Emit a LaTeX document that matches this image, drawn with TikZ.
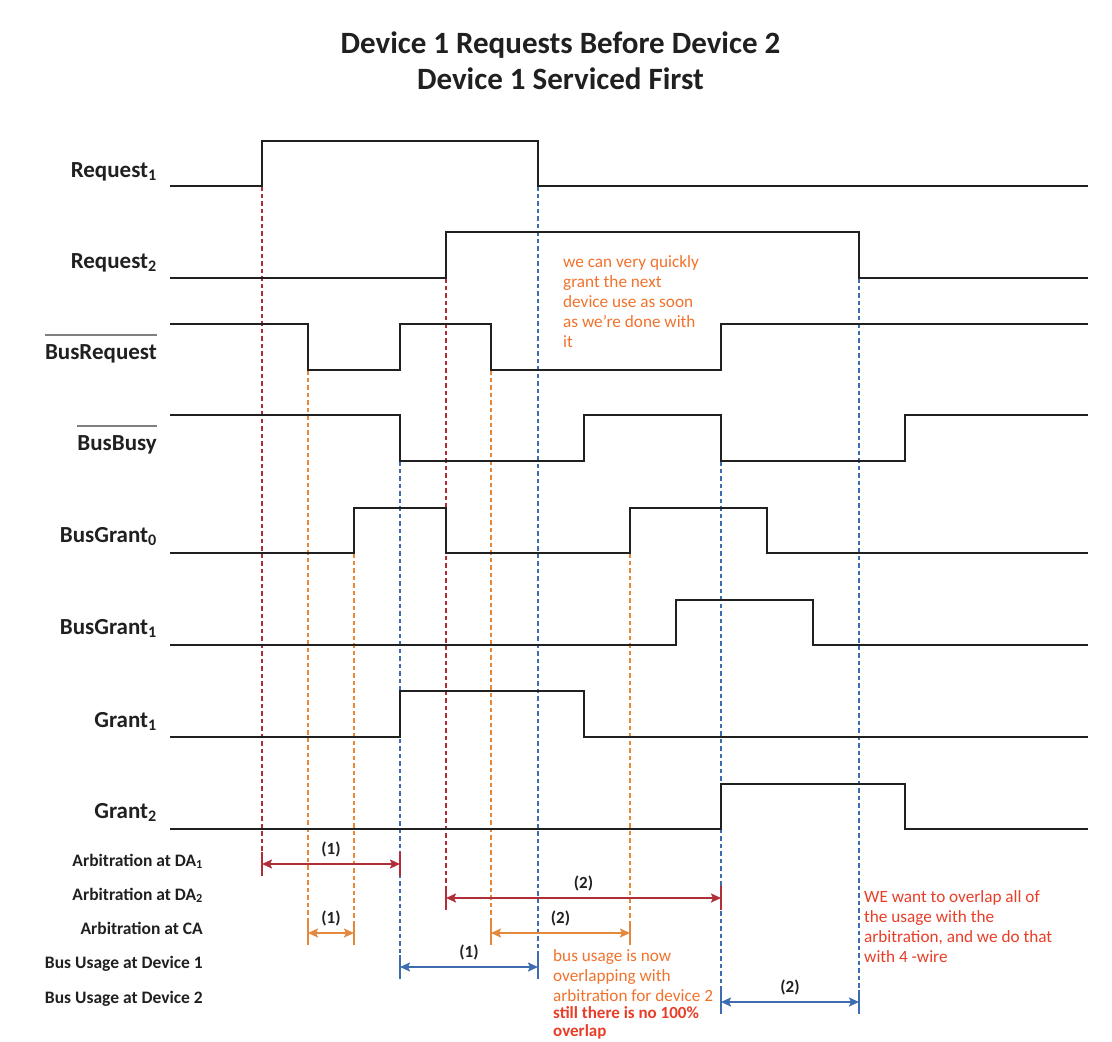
\documentclass[tikz,border=0pt]{standalone}
\usepackage{fontspec}
\setmainfont{Carlito}
\usetikzlibrary{arrows.meta}

\definecolor{arbred}{RGB}{176,46,56}
\definecolor{arborange}{RGB}{228,136,60}
\definecolor{usageblue}{RGB}{62,108,176}
\definecolor{noteorange}{RGB}{240,114,44}
\definecolor{notered}{RGB}{232,62,40}
\definecolor{wire}{RGB}{32,32,32}

\tikzstyle{signal}=[line width=2.6pt,wire]
\tikzstyle{signame}=[anchor=base east,inner sep=0pt,font=\bfseries\fontsize{23}{25}\selectfont,text=wire]
\tikzstyle{rowname}=[anchor=base east,inner sep=0pt,font=\bfseries\fontsize{17.5}{20}\selectfont,text=wire]
\tikzstyle{overbar}=[line width=1.4pt,gray]
\tikzstyle{guide}=[line width=2.5pt,dash pattern=on 4.5pt off 3pt]
\tikzstyle{endtick}=[line width=2.4pt]
\tikzstyle{spanarrow}=[line width=2.4pt,{Stealth[length=10pt,width=9pt,inset=2pt]}-{Stealth[length=10pt,width=9pt,inset=2pt]}]
\tikzstyle{spanlabel}=[above=6pt,inner sep=0pt,font=\bfseries\fontsize{17}{19}\selectfont,text=wire]
\tikzstyle{note}=[anchor=base west,inner sep=0pt,align=left,font=\fontsize{17.2}{20}\selectfont]

\begin{document}
\begin{tikzpicture}[x=1pt,y=-1pt]
\useasboundingbox (0,0) rectangle (1112,1042);

\node[anchor=base,inner sep=0pt,align=center,font=\bfseries\fontsize{31}{36}\selectfont,text=wire] (title) at (560.5,89) {Device 1 Requests Before Device 2\\Device 1 Serviced First};

% span ends
\coordinate (da1s) at (262,864);
\coordinate (da1e) at (400,864);
\coordinate (da2s) at (446,898);
\coordinate (da2e) at (721,898);
\coordinate (ca1s) at (308,933);
\coordinate (ca1e) at (354,933);
\coordinate (ca2s) at (491,933);
\coordinate (ca2e) at (630,933);
\coordinate (bu1s) at (400,967);
\coordinate (bu1e) at (538,967);
\coordinate (bu2s) at (721,1002);
\coordinate (bu2e) at (859,1002);

% dotted guides
\draw[guide,arbred] (262,186) -- ([yshift=12pt]da1s);
\draw[guide,arbred] (446,278) -- ([yshift=12pt]da2s);
\draw[guide,arborange] (308,370) -- ([yshift=12pt]ca1s);
\draw[guide,arborange] (354,553) -- ([yshift=12pt]ca1e);
\draw[guide,arborange] (491,370) -- ([yshift=12pt]ca2s);
\draw[guide,arborange] (630,553) -- ([yshift=12pt]ca2e);
\draw[guide,usageblue] (400,461) -- ([yshift=12pt]bu1s);
\draw[guide,usageblue] (538,186) -- ([yshift=12pt]bu1e);
\draw[guide,usageblue] (721,461) -- ([yshift=12pt]bu2s);
\draw[guide,usageblue] (859,278) -- ([yshift=12pt]bu2e);

% ticks
\draw[endtick,arbred] ([yshift=12pt]da1s) -- ([yshift=-12pt]da1s);
\draw[endtick,arbred] ([yshift=12pt]da1e) -- ([yshift=-12pt]da1e);
\draw[endtick,arbred] ([yshift=12pt]da2s) -- ([yshift=-12pt]da2s);
\draw[endtick,arbred] ([yshift=12pt]da2e) -- ([yshift=-12pt]da2e);
\draw[endtick,arborange] ([yshift=12pt]ca1s) -- ([yshift=-12pt]ca1s);
\draw[endtick,arborange] ([yshift=12pt]ca1e) -- ([yshift=-12pt]ca1e);
\draw[endtick,arborange] ([yshift=12pt]ca2s) -- ([yshift=-12pt]ca2s);
\draw[endtick,arborange] ([yshift=12pt]ca2e) -- ([yshift=-12pt]ca2e);
\draw[endtick,usageblue] ([yshift=12pt]bu1s) -- ([yshift=-12pt]bu1s);
\draw[endtick,usageblue] ([yshift=12pt]bu1e) -- ([yshift=-12pt]bu1e);
\draw[endtick,usageblue] ([yshift=12pt]bu2s) -- ([yshift=-12pt]bu2s);
\draw[endtick,usageblue] ([yshift=12pt]bu2e) -- ([yshift=-12pt]bu2e);

% spans
\draw[spanarrow,arbred] (da1s) -- node[spanlabel] {(1)} (da1e);
\draw[spanarrow,arbred] (da2s) -- node[spanlabel] {(2)} (da2e);
\draw[spanarrow,arborange] (ca1s) -- node[spanlabel] {(1)} (ca1e);
\draw[spanarrow,arborange] (ca2s) -- node[spanlabel] {(2)} (ca2e);
\draw[spanarrow,usageblue] (bu1s) -- node[spanlabel] {(1)} (bu1e);
\draw[spanarrow,usageblue] (bu2s) -- node[spanlabel] {(2)} (bu2e);

% waveforms
\draw[signal] (170,186) -| (262,141) -| (538,186) -- (1088,186);
\draw[signal] (170,278) -| (446,232) -| (859,278) -- (1088,278);
\draw[signal] (170,324) -| (308,370) -| (400,324) -| (491,370) -| (721,324) -- (1088,324);
\draw[signal] (170,415) -| (400,461) -| (584,415) -| (721,461) -| (905,415) -- (1088,415);
\draw[signal] (170,553) -| (354,508) -| (446,553) -| (630,508) -| (767,553) -- (1088,553);
\draw[signal] (170,645) -| (676,600) -| (813,645) -- (1088,645);
\draw[signal] (170,737) -| (400,691) -| (584,737) -- (1088,737);
\draw[signal] (170,829) -| (721,784) -| (905,829) -- (1088,829);

% signal names
\node[signame] (req1) at (157,177) {Request\textsubscript{1}};
\node[signame] (req2) at (157,268) {Request\textsubscript{2}};
\node[signame] (busreq) at (157,359) {BusRequest};
\node[signame] (busbusy) at (157,450) {BusBusy};
\node[signame] (bg0) at (157,542) {BusGrant\textsubscript{0}};
\node[signame] (bg1) at (157,634) {BusGrant\textsubscript{1}};
\node[signame] (gr1) at (157,727) {Grant\textsubscript{1}};
\node[signame] (gr2) at (157,818) {Grant\textsubscript{2}};
\draw[overbar] ([yshift=9pt]busreq.north west) -- ([yshift=9pt]busreq.north east);
\draw[overbar] ([yshift=9pt]busbusy.north west) -- ([yshift=9pt]busbusy.north east);

% row names
\node[rowname] (arbda1) at (203,866) {Arbitration at DA\textsubscript{1}};
\node[rowname] (arbda2) at (203,900) {Arbitration at DA\textsubscript{2}};
\node[rowname] (arbca) at (203,934) {Arbitration at CA};
\node[rowname] (usage1) at (203,968) {Bus Usage at Device 1};
\node[rowname] (usage2) at (203,1003) {Bus Usage at Device 2};

% notes (anchored at the last line)
\node[note,text=noteorange] (quicknote) at (563,347) {we can very quickly\\grant the next\\device use as soon\\as we're done with\\it};
\node[note,text=noteorange] (overlapnote) at (553,1001) {bus usage is now\\overlapping with\\arbitration for device 2};
\node[note,text=notered,font=\bfseries\fontsize{17}{18}\selectfont] (nofullnote) at (553,1036) {still there is no 100\%\\overlap};
\node[note,text=notered] (wirenote) at (864,962) {WE want to overlap all of\\the usage with the\\arbitration, and we do that\\with 4 -wire};
\end{tikzpicture}
\end{document}
